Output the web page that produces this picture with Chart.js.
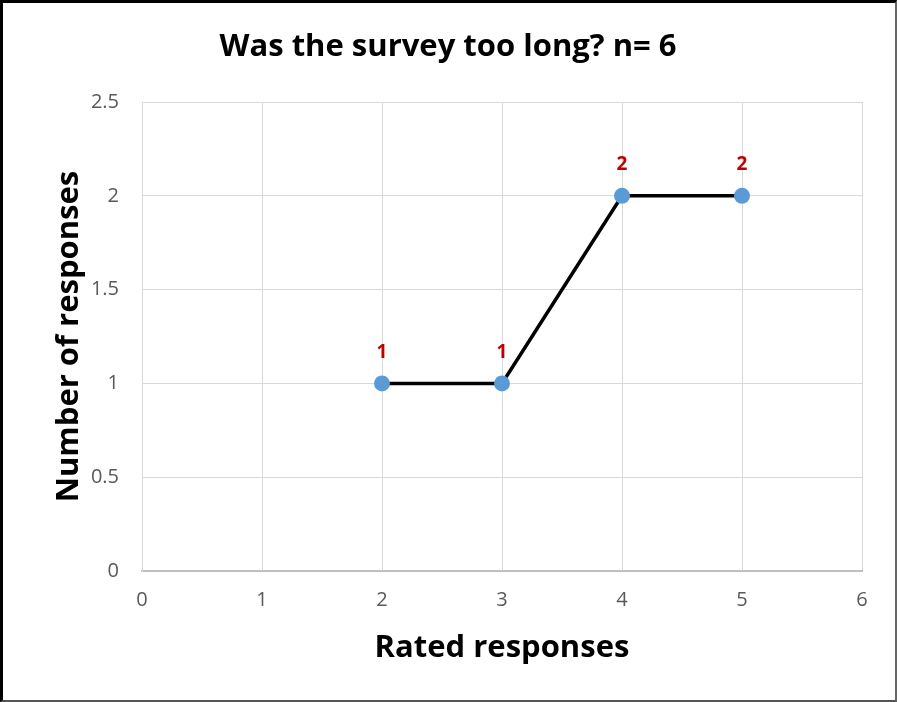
<!DOCTYPE html>
<html><head><meta charset="utf-8">
<script src="https://cdn.jsdelivr.net/npm/chart.js@4"></script>
<style>
html,body{margin:0;padding:0;background:#fff;}
#wrap{position:relative;width:897px;height:702px;overflow:hidden;}
#frame{position:absolute;left:0;top:0;border-left:3px solid #000;border-top:3px solid #000;border-right:2px solid #666;border-bottom:2px solid #555;pointer-events:none;box-sizing:content-box;}
</style></head>
<body>
<div id="wrap"><canvas id="c" width="897" height="702"></canvas><div id="frame" style="width:892px;height:697px"></div></div>
<script>
const chartTitle = "Was the survey too long? n= 6";
const xTitle = "Rated responses";
const yTitle = "Number of responses";
const ratedResponses = [2, 3, 4, 5];
const numberOfResponses = [1, 1, 2, 2];
const xTickValues = [0, 1, 2, 3, 4, 5, 6];
const yTickValues = [0, 0.5, 1, 1.5, 2, 2.5];

const FONT = "'Open Sans', Lato, sans-serif";

const labelsPlugin = {
  id: 'extras',
  afterDatasetsDraw(chart) {
    const ctx = chart.ctx;
    const meta = chart.getDatasetMeta(0);
    ctx.save();
    ctx.fillStyle = '#c00000';
    ctx.font = "bold 19px " + FONT;
    ctx.textAlign = 'center';
    ctx.textBaseline = 'middle';
    meta.data.forEach((pt, i) => {
      ctx.fillText(String(numberOfResponses[i]), pt.x, pt.y - 31);
    });
    ctx.restore();
  },
  afterDraw(chart) {
    const ctx = chart.ctx;
    ctx.save();
    ctx.fillStyle = '#000';
    ctx.font = "bold 31px " + FONT;
    ctx.textAlign = 'center';
    ctx.textBaseline = 'middle';
    ctx.fillText(chartTitle, 448, 47);
    ctx.restore();
  }
};

new Chart(document.getElementById('c'), {
  type: 'scatter',
  data: {
    datasets: [{
      data: ratedResponses.map((x, i) => ({x: x, y: numberOfResponses[i]})),
      showLine: true,
      borderColor: '#000',
      borderWidth: 3.5,
      pointBackgroundColor: '#5b9bd5',
      pointBorderColor: '#5b9bd5',
      pointBorderWidth: 0,
      pointRadius: 8,
      pointHoverRadius: 8
    }]
  },
  options: {
    responsive: false,
    animation: false,
    devicePixelRatio: 1,
    layout: { padding: { top: 102, right: 35, bottom: 0, left: 0 } },
    plugins: { legend: { display: false }, tooltip: { enabled: false }, title: { display: false } },
    scales: {
      x: {
        type: 'linear',
        min: 0, max: 6,
        afterBuildTicks(s) { s.ticks = xTickValues.map(v => ({value: v})); },
        afterFit(s) { s.height = 131; },
        grid: { color: '#d9d9d9', lineWidth: 1, drawTicks: false },
        border: { color: '#bfbfbf', width: 2 },
        ticks: { color: '#595959', font: { size: 20, family: FONT }, padding: 17, callback: v => String(v) },
        title: { display: true, text: xTitle, color: '#000', font: { size: 31, weight: 'bold', family: FONT }, padding: { top: 0, bottom: 35 } }
      },
      y: {
        min: 0, max: 2.5,
        afterBuildTicks(s) { s.ticks = yTickValues.map(v => ({value: v})); },
        afterFit(s) { s.width = 142; },
        grid: { color: '#d9d9d9', lineWidth: 1, drawTicks: false },
        border: { color: '#d9d9d9', width: 1 },
        ticks: { color: '#595959', font: { size: 20, family: FONT }, padding: 23, callback: v => String(v) },
        title: { display: true, text: yTitle, color: '#000', font: { size: 31, weight: 'bold', family: FONT }, padding: { top: 51, bottom: 0 } }
      }
    }
  },
  plugins: [labelsPlugin]
});
</script>
</body></html>
